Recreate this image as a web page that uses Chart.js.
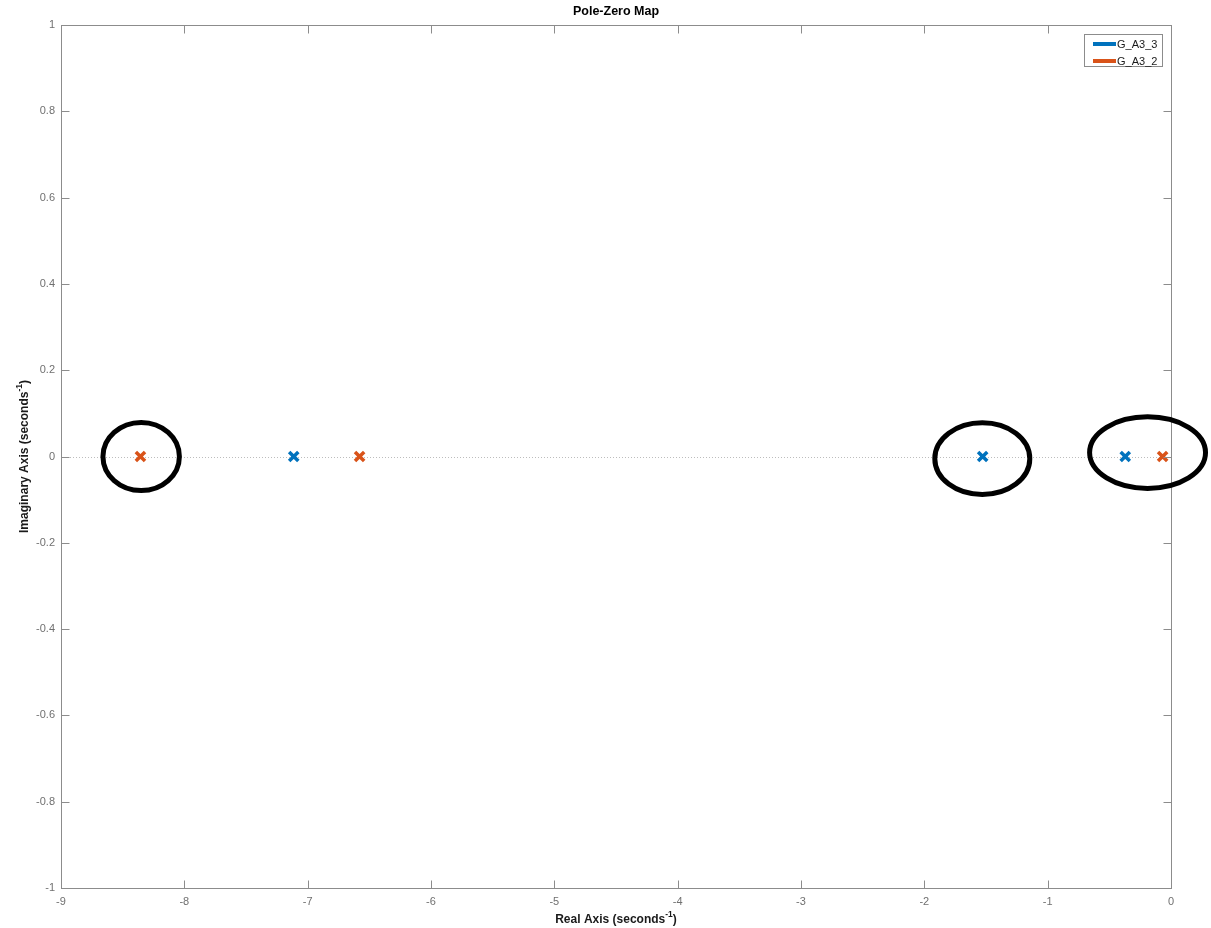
<!DOCTYPE html>
<html>
<head>
<meta charset="utf-8">
<title>Pole-Zero Map</title>
<script src="https://cdn.jsdelivr.net/npm/chart.js@4.4.1/dist/chart.umd.min.js"></script>
<style>
  html, body { margin: 0; padding: 0; background: #ffffff; }
  #wrap { width: 1211px; height: 928px; position: relative; }
</style>
</head>
<body>
<div id="wrap"><canvas id="pz"></canvas></div>
<script>
// Pole locations (real, imaginary) for each system
const seriesNames = ['G_A3_3', 'G_A3_2'];
const polesA33Real = [-7.113, -1.527, -0.371];
const polesA33Imag = [0, 0, 0];
const polesA32Real = [-8.356, -6.579, -0.068];
const polesA32Imag = [0, 0, 0];

// Axis ranges and tick values
const xTicks = [-9, -8, -7, -6, -5, -4, -3, -2, -1, 0];
const yTicks = [-1, -0.8, -0.6, -0.4, -0.2, 0, 0.2, 0.4, 0.6, 0.8, 1];

// Hand-drawn highlight rings: centre (re, im) and half-widths in axis units
const ringCentreRe = [-8.35, -1.53, -0.19];
const ringCentreIm = [0.0, -0.005, 0.009];
const ringHalfRe = [0.31, 0.385, 0.47];
const ringHalfIm = [0.079, 0.083, 0.083];

const COLORS = ['#0072BD', '#D95319'];
const FONT = "'Liberation Sans', Arial, Helvetica, sans-serif";

function toPoints(re, im) {
  return re.map((v, i) => ({ x: v, y: im[i] }));
}

// Frame, inward ticks, zero line, titles, legend and rings
const matlabFrame = {
  id: 'matlabFrame',
  beforeDatasetsDraw(chart) {
    const { ctx, scales } = chart;
    const xs = scales.x, ys = scales.y;
    ctx.save();
    ctx.strokeStyle = '#bdbdbd';
    ctx.lineWidth = 1;
    ctx.setLineDash([1, 2]);
    const y0 = Math.round(ys.getPixelForValue(0)) + 0.5;
    ctx.beginPath();
    ctx.moveTo(xs.getPixelForValue(-9), y0);
    ctx.lineTo(xs.getPixelForValue(0), y0);
    ctx.stroke();
    ctx.setLineDash([]);
    ctx.restore();
  },
  afterDraw(chart) {
    const { ctx, chartArea: a, scales } = chart;
    const xs = scales.x, ys = scales.y;
    const L = Math.round(a.left) + 0.5, R = Math.round(a.right) + 0.5;
    const T = Math.round(a.top) + 0.5, B = Math.round(a.bottom) + 0.5;
    const tick = 8;
    ctx.save();
    ctx.strokeStyle = '#8c8c8c';
    ctx.lineWidth = 1;
    ctx.strokeRect(L, T, R - L, B - T);
    ctx.beginPath();
    xTicks.forEach(v => {
      const px = Math.round(xs.getPixelForValue(v)) + 0.5;
      ctx.moveTo(px, B); ctx.lineTo(px, B - tick);
      ctx.moveTo(px, T); ctx.lineTo(px, T + tick);
    });
    yTicks.forEach(v => {
      const py = Math.round(ys.getPixelForValue(v)) + 0.5;
      ctx.moveTo(L, py); ctx.lineTo(L + tick, py);
      ctx.moveTo(R, py); ctx.lineTo(R - tick, py);
    });
    ctx.stroke();

    // title
    const cx = (a.left + a.right) / 2;
    ctx.fillStyle = '#000000';
    ctx.textAlign = 'center';
    ctx.textBaseline = 'middle';
    ctx.font = 'bold 12.5px ' + FONT;
    ctx.fillText('Pole-Zero Map', cx, 12);

    // axis titles with superscript
    function labelWithSup(text, sup, x, y, rotate) {
      ctx.save();
      ctx.translate(x, y);
      if (rotate) ctx.rotate(-Math.PI / 2);
      ctx.font = 'bold 12px ' + FONT;
      const w1 = ctx.measureText(text).width;
      ctx.font = 'bold 8.5px ' + FONT;
      const w2 = ctx.measureText(sup).width;
      ctx.font = 'bold 12px ' + FONT;
      const w3 = ctx.measureText(')').width;
      const total = w1 + w2 + w3;
      const sx = -total / 2;
      ctx.textAlign = 'left';
      ctx.textBaseline = 'middle';
      ctx.fillStyle = '#1a1a1a';
      ctx.fillText(text, sx, 0);
      ctx.font = 'bold 8.5px ' + FONT;
      ctx.fillText(sup, sx + w1, -5);
      ctx.font = 'bold 12px ' + FONT;
      ctx.fillText(')', sx + w1 + w2, 0);
      ctx.restore();
    }
    labelWithSup('Real Axis (seconds', '-1', cx, 920, false);
    labelWithSup('Imaginary Axis (seconds', '-1', 25, (a.top + a.bottom) / 2, true);

    // legend box
    const lx = 1084.5, ly = 34.5, lw = 78, lh = 32;
    ctx.fillStyle = '#ffffff';
    ctx.fillRect(lx, ly, lw, lh);
    ctx.strokeStyle = '#8c8c8c';
    ctx.lineWidth = 1;
    ctx.strokeRect(lx, ly, lw, lh);
    chart.data.datasets.forEach((ds, i) => {
      const rowY = 44 + i * 17;
      ctx.strokeStyle = ds.borderColor;
      ctx.lineWidth = 4;
      ctx.beginPath();
      ctx.moveTo(1093, rowY);
      ctx.lineTo(1116, rowY);
      ctx.stroke();
      ctx.fillStyle = '#1a1a1a';
      ctx.font = '11px ' + FONT;
      ctx.textAlign = 'left';
      ctx.textBaseline = 'middle';
      ctx.fillText(ds.label, 1117, rowY + 1);
    });

    // highlight rings
    ctx.strokeStyle = '#000000';
    ctx.lineWidth = 5;
    ctx.lineCap = 'round';
    ringCentreRe.forEach((re, i) => {
      const px = xs.getPixelForValue(re);
      const py = ys.getPixelForValue(ringCentreIm[i]);
      const rx = Math.abs(xs.getPixelForValue(re + ringHalfRe[i]) - px);
      const ry = Math.abs(ys.getPixelForValue(ringCentreIm[i] + ringHalfIm[i]) - py);
      ctx.beginPath();
      ctx.ellipse(px, py, rx, ry, 0, 0, Math.PI * 2);
      ctx.stroke();
    });
    ctx.restore();
  }
};

new Chart(document.getElementById('pz'), {
  type: 'scatter',
  data: {
    datasets: [
      {
        label: seriesNames[0],
        data: toPoints(polesA33Real, polesA33Imag),
        borderColor: COLORS[0],
        backgroundColor: COLORS[0],
        pointStyle: 'crossRot',
        pointRadius: 6.5,
        pointBorderWidth: 3.5,
        pointHoverRadius: 6.5
      },
      {
        label: seriesNames[1],
        data: toPoints(polesA32Real, polesA32Imag),
        borderColor: COLORS[1],
        backgroundColor: COLORS[1],
        pointStyle: 'crossRot',
        pointRadius: 6.5,
        pointBorderWidth: 3.5,
        pointHoverRadius: 6.5
      }
    ]
  },
  options: {
    responsive: true,
    maintainAspectRatio: false,
    animation: false,
    events: [],
    layout: { padding: { top: 25, right: 40, bottom: 0, left: 0 } },
    plugins: {
      legend: { display: false },
      title: { display: false },
      tooltip: { enabled: false }
    },
    scales: {
      x: {
        type: 'linear',
        min: -9,
        max: 0,
        afterBuildTicks(scale) { scale.ticks = xTicks.map(v => ({ value: v })); },
        afterFit(scale) { scale.height = 40; },
        grid: { display: false, drawTicks: false },
        border: { display: false },
        ticks: {
          padding: 7,
          color: '#707070',
          font: { family: FONT, size: 11 },
          callback: v => String(v)
        }
      },
      y: {
        type: 'linear',
        min: -1,
        max: 1,
        afterBuildTicks(scale) { scale.ticks = yTicks.map(v => ({ value: v })); },
        afterFit(scale) { scale.width = 61; },
        grid: { display: false, drawTicks: false },
        border: { display: false },
        ticks: {
          padding: 6,
          color: '#707070',
          font: { family: FONT, size: 11 },
          callback: v => String(Number(v.toFixed(1)))
        }
      }
    }
  },
  plugins: [matlabFrame]
});
</script>
</body>
</html>
